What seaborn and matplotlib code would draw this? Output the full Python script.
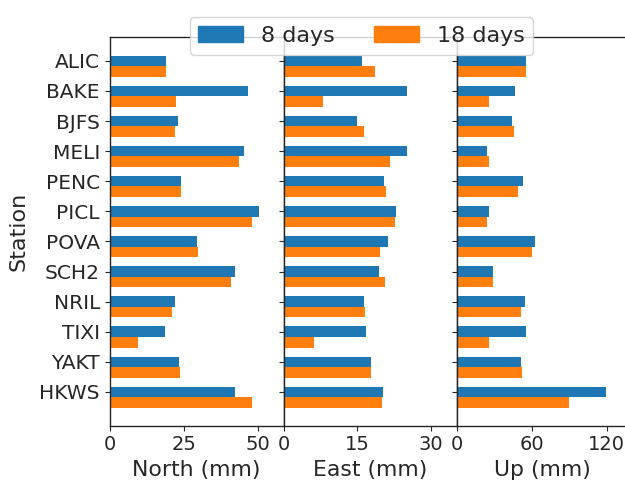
import matplotlib
matplotlib.use("Agg")
import matplotlib.pyplot as plt
import numpy as np
import pandas as pd
import seaborn as sns

#%% data
stations = ['ALIC', 'BAKE', 'BJFS', 'MELI', 'PENC', 'PICL',
            'POVA', 'SCH2', 'NRIL', 'TIXI', 'YAKT', 'HKWS']
periods = ['8 days', '18 days']

north_8 = [19.1, 46.7, 23.1, 45.3, 24.1, 50.3, 29.6, 42.5, 22.0, 18.7, 23.4, 42.5]
north_18 = [19.1, 22.3, 21.9, 43.8, 24.1, 48.2, 29.8, 41.0, 21.2, 9.7, 23.7, 48.2]
east_8 = [15.9, 25.1, 15.0, 25.1, 20.4, 22.9, 21.2, 19.5, 16.3, 16.7, 17.8, 20.2]
east_18 = [18.5, 8.0, 16.3, 21.7, 20.8, 22.7, 19.7, 20.6, 16.5, 6.2, 17.8, 20.0]
up_8 = [55.3, 46.1, 43.7, 24.0, 52.9, 25.6, 62.3, 29.1, 54.5, 55.3, 51.0, 119.2]
up_18 = [55.3, 25.6, 45.3, 25.6, 48.5, 24.0, 60.4, 29.1, 51.0, 25.6, 51.8, 90.1]

def long_table(v8, v18):
    return pd.DataFrame({'Station': stations * 2,
                         'Period': [periods[0]] * len(stations) + [periods[1]] * len(stations),
                         'value': v8 + v18})

panels = [('North (mm)', long_table(north_8, north_18), 58.8, [0, 25, 50]),
          ('East (mm)', long_table(east_8, east_18), 35.3, [0, 15, 30]),
          ('Up (mm)', long_table(up_8, up_18), 137, [0, 60, 120])]

#%% make graph
sns.set_style("ticks")
plt.rcParams['font.family'] = ['DejaVu Sans']
fig = plt.figure(figsize=(6.25, 4.82), dpi=100)
W, H = 625, 482
lefts = [109.7, 283.7, 457.0]
widths = [174.0, 173.3, 171.0]
bottom, top = 425.7, 37.0

for i, (label, df, xmax, ticks) in enumerate(panels):
    ax = fig.add_axes([lefts[i] / W, 1 - bottom / H, widths[i] / W, (bottom - top) / H])
    sns.barplot(data=df, y='Station', x='value', hue='Period', orient='h',
                palette=['#1f77b4', '#ff7f0e'], saturation=1, width=0.7,
                linewidth=0, legend=False, ax=ax)
    ax.set_xlim(0, xmax)
    ax.set_ylim(11.945, -0.965)
    ax.set_xticks(ticks)
    ax.tick_params(axis='x', labelsize=14)
    ax.set_xlabel(label, fontsize=15.8)
    ax.set_yticks(np.arange(len(stations)) - 0.175)
    if i == 0:
        ax.set_yticklabels(stations, fontsize=14.5)
        ax.set_ylabel('Station', fontsize=16, labelpad=8)
    else:
        ax.set_yticklabels([])
        ax.set_ylabel('')
    for s in ax.spines.values():
        s.set_linewidth(1.0)

handles = [plt.Rectangle((0, 0), 1, 1, color=c) for c in ['#1f77b4', '#ff7f0e']]
fig.legend(handles, periods, loc='upper center', ncol=2, fontsize=16,
           bbox_to_anchor=(361.5 / W, 1 - 6 / H), columnspacing=1.8)

plt.savefig('out.png', dpi=100)
